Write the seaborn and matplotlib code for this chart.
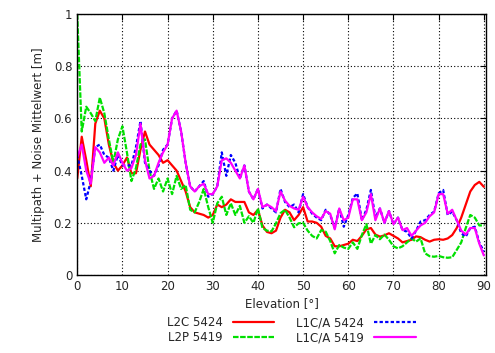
import matplotlib
matplotlib.use("Agg")
import matplotlib.pyplot as plt
import seaborn as sns
import numpy as np
import pandas as pd

elevation = list(range(0, 91))

l2c_5424 = [0.37, 0.53, 0.44, 0.34, 0.58, 0.63, 0.60, 0.50, 0.43, 0.40,
            0.42, 0.45, 0.39, 0.39, 0.48, 0.55, 0.50, 0.48, 0.46, 0.43,
            0.44, 0.42, 0.40, 0.36, 0.32, 0.26, 0.24, 0.235, 0.23, 0.22,
            0.23, 0.27, 0.26, 0.27, 0.29, 0.28, 0.28, 0.28, 0.24, 0.23,
            0.25, 0.19, 0.165, 0.16, 0.17, 0.22, 0.25, 0.24, 0.21, 0.23,
            0.26, 0.205, 0.205, 0.20, 0.185, 0.15, 0.14, 0.11, 0.11, 0.115,
            0.12, 0.135, 0.13, 0.15, 0.175, 0.18, 0.155, 0.147, 0.152, 0.16,
            0.15, 0.14, 0.125, 0.13, 0.135, 0.148, 0.145, 0.135, 0.128, 0.135,
            0.137, 0.135, 0.14, 0.153, 0.18, 0.22, 0.27, 0.32, 0.345, 0.357,
            0.338]

l2p_5419 = [1.0, 0.55, 0.645, 0.62, 0.59, 0.68, 0.62, 0.52, 0.43, 0.52,
            0.57, 0.47, 0.36, 0.41, 0.50, 0.52, 0.40, 0.33, 0.37, 0.32,
            0.37, 0.31, 0.38, 0.33, 0.345, 0.25, 0.24, 0.28, 0.33, 0.26,
            0.20, 0.275, 0.30, 0.23, 0.275, 0.23, 0.265, 0.20, 0.225, 0.20,
            0.255, 0.18, 0.17, 0.167, 0.198, 0.237, 0.25, 0.22, 0.183, 0.198,
            0.20, 0.17, 0.15, 0.14, 0.172, 0.166, 0.13, 0.083, 0.115, 0.105,
            0.10, 0.125, 0.10, 0.153, 0.195, 0.12, 0.153, 0.137, 0.155, 0.135,
            0.11, 0.102, 0.11, 0.125, 0.14, 0.128, 0.14, 0.083, 0.072, 0.07,
            0.073, 0.068, 0.066, 0.068, 0.096, 0.125, 0.18, 0.23, 0.22, 0.19,
            0.19]

l1ca_5424 = [0.46, 0.38, 0.29, 0.36, 0.49, 0.50, 0.46, 0.45, 0.40, 0.46,
             0.42, 0.42, 0.42, 0.49, 0.59, 0.43, 0.40, 0.38, 0.42, 0.48,
             0.50, 0.60, 0.63, 0.55, 0.43, 0.34, 0.32, 0.34, 0.36, 0.30,
             0.31, 0.34, 0.47, 0.38, 0.46, 0.43, 0.37, 0.42, 0.32, 0.29,
             0.33, 0.255, 0.27, 0.255, 0.24, 0.33, 0.28, 0.26, 0.27, 0.24,
             0.31, 0.26, 0.235, 0.22, 0.21, 0.25, 0.23, 0.18, 0.255, 0.185,
             0.23, 0.295, 0.313, 0.21, 0.25, 0.326, 0.22, 0.255, 0.20, 0.245,
             0.194, 0.22, 0.172, 0.166, 0.14, 0.17, 0.205, 0.21, 0.23, 0.243,
             0.313, 0.326, 0.23, 0.243, 0.21, 0.16, 0.147, 0.18, 0.185, 0.124,
             0.09]

l1ca_5419 = [0.45, 0.50, 0.40, 0.35, 0.49, 0.47, 0.43, 0.45, 0.42, 0.47,
             0.43, 0.40, 0.41, 0.46, 0.58, 0.44, 0.37, 0.38, 0.43, 0.47,
             0.50, 0.60, 0.63, 0.55, 0.43, 0.34, 0.32, 0.34, 0.35, 0.31,
             0.31, 0.34, 0.44, 0.447, 0.43, 0.40, 0.37, 0.42, 0.32, 0.29,
             0.33, 0.26, 0.27, 0.26, 0.245, 0.32, 0.285, 0.265, 0.255, 0.25,
             0.30, 0.26, 0.24, 0.225, 0.215, 0.245, 0.235, 0.175, 0.255, 0.21,
             0.22, 0.29, 0.29, 0.21, 0.24, 0.31, 0.21, 0.255, 0.20, 0.245,
             0.195, 0.22, 0.172, 0.18, 0.15, 0.17, 0.19, 0.20, 0.225, 0.24,
             0.31, 0.31, 0.235, 0.25, 0.21, 0.17, 0.155, 0.18, 0.18, 0.12,
             0.075]

series_names = ["L2C 5424", "L2P 5419", "L1C/A 5424", "L1C/A 5419"]
series_values = [l2c_5424, l2p_5419, l1ca_5424, l1ca_5419]
colors = ["#ff0000", "#00e000", "#0000ff", "#ff00ff"]
dash_styles = ["", (2.5, 0.7), (1.5, 1.0), ""]

x_ticks = list(range(0, 91, 10))
y_ticks = [0, 0.2, 0.4, 0.6, 0.8, 1]
y_tick_labels = ["0", "0.2", "0.4", "0.6", "0.8", "1"]

sns.set_style("white")
plt.rcParams["font.family"] = ["DejaVu Sans"]

fig = plt.figure(figsize=(4.95, 3.53), dpi=100)
ax = fig.add_axes([0.156, 0.221, 0.826, 0.739])

df = pd.DataFrame({
    "Elevation": np.tile(elevation, len(series_names)),
    "value": np.concatenate(series_values),
    "series": np.repeat(series_names, len(elevation)),
})

sns.lineplot(data=df, x="Elevation", y="value", hue="series", style="series",
             hue_order=series_names, style_order=series_names,
             palette=dict(zip(series_names, colors)),
             dashes=dict(zip(series_names, dash_styles)),
             linewidth=1.6, ax=ax, legend=True)

ax.set_xlim(0, 90.5)
ax.set_ylim(0, 1)
ax.set_xticks(x_ticks)
ax.set_yticks(y_ticks)
ax.set_yticklabels(y_tick_labels)
ax.grid(True, color="black", linestyle=(0, (1, 2)), linewidth=0.8)
ax.set_axisbelow(True)
ax.tick_params(direction="in", top=True, right=True, labelsize=8.5, length=4, color="black")
for s in ax.spines.values():
    s.set_color("black")
    s.set_linewidth(1.0)
ax.set_xlabel("Elevation [°]", fontsize=8.5, labelpad=3)
ax.set_ylabel("Multipath + Noise Mittelwert [m]", fontsize=8.5, labelpad=6)

handles, labels = ax.get_legend_handles_labels()
ax.get_legend().remove()
fig.legend(handles, labels, ncol=2, loc="lower center", bbox_to_anchor=(0.588, -0.005),
           frameon=False, markerfirst=False, fontsize=8.5, handlelength=3.5,
           columnspacing=1.8, labelspacing=0.15, handletextpad=0.9)

fig.savefig("out.png", dpi=100)
